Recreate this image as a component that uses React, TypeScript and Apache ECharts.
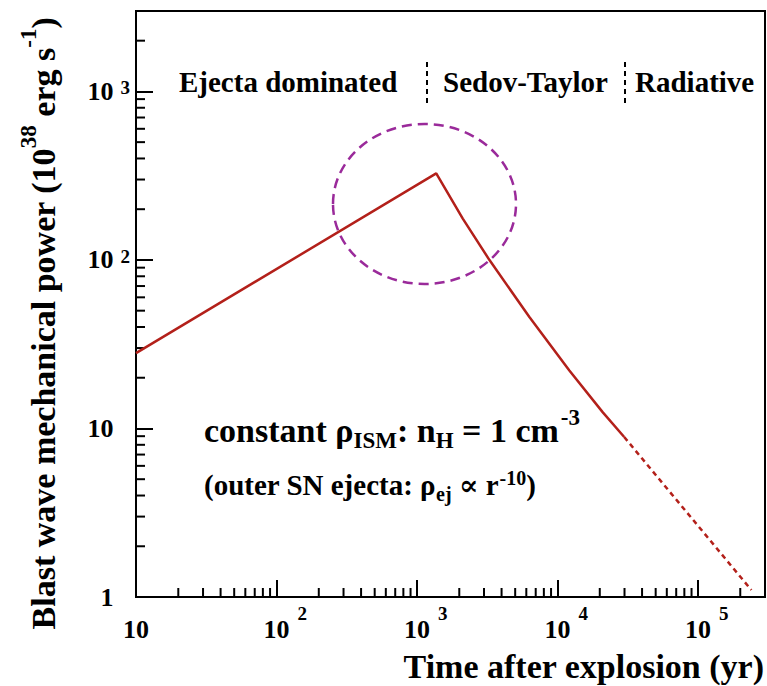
import React, { useEffect, useRef } from "react";
import * as echarts from "echarts";

// ---- data ----
const SOLID_TIME = [10, 1371, 2118, 3281, 6310, 12150, 20960, 29850];
const SOLID_POWER = [28, 326, 176, 99.8, 45.9, 22.1, 12.5, 8.9];
const DASHED_TIME = [29850, 240000];
const DASHED_POWER = [8.9, 1.1];

const X_MIN = 10;
const X_MAX = 3e5;
const Y_MIN = 1;
const Y_MAX = 3000;
const X_DECADES = [10, 100, 1000, 10000, 100000];
const Y_DECADES = [1, 10, 100, 1000];
const MINOR_MULT = [2, 3, 4, 5, 6, 7, 8, 9];
const PHASE_LABELS = ["Ejecta dominated", "Sedov-Taylor", "Radiative"];

const SERIF = "'Liberation Serif', 'Times New Roman', 'DejaVu Serif', serif";
const RED = "#b3201a";

function tok(size: number, lh: number, pad: number[]) {
  return {
    fontFamily: SERIF,
    fontWeight: "bold",
    fontSize: size,
    lineHeight: lh,
    verticalAlign: "top",
    padding: pad,
    color: "#000",
    fill: "#000",
  };
}

function expOf(v: number) {
  const l = Math.log10(v);
  const e = Math.round(l);
  return Math.abs(l - e) < 1e-6 ? e : null;
}

export default function App() {
  const ref = useRef<HTMLDivElement>(null);
  useEffect(() => {
    if (!ref.current) return;
    const chart = echarts.init(ref.current, null, { renderer: "svg" });

    const minorData: number[][] = [];
    X_DECADES.forEach((d) =>
      MINOR_MULT.forEach((m) => {
        const v = d * m;
        if (v < X_MAX) minorData.push([v, Y_MIN, 0]);
      })
    );
    Y_DECADES.forEach((d) =>
      MINOR_MULT.forEach((m) => {
        const v = d * m;
        if (v < Y_MAX) minorData.push([X_MIN, v, 1]);
      })
    );

    const option: any = {
      animation: false,
      textStyle: { fontFamily: SERIF, fontWeight: "bold" },
      grid: {
        left: 136,
        right: 2,
        top: 11,
        bottom: 89,
        show: true,
        borderColor: "#000",
        borderWidth: 2,
        backgroundColor: "transparent",
      },
      xAxis: {
        type: "log",
        logBase: 10,
        min: X_MIN,
        max: X_MAX,
        splitLine: { show: false },
        axisLine: { show: true, lineStyle: { color: "#000", width: 2 } },
        axisTick: { show: true, inside: true, length: 17, lineStyle: { color: "#000", width: 2 } },
        minorTick: { show: false },
        axisLabel: {
          margin: 7,
          showMaxLabel: false,
          formatter: (v: number) => {
            const e = expOf(v);
            if (e === null) return "";
            if (e === 1) return "{b|10}";
            return `{p| }{b|10}{s|${e}}`;
          },
          rich: {
            b: tok(26, 26, [12, 0, 0, 0]),
            s: tok(19, 19, [0, 0, 0, 8]),
            p: { ...tok(19, 19, [0, 0, 0, 0]), width: 17.5 },
          },
        },
      },
      yAxis: {
        type: "log",
        logBase: 10,
        min: Y_MIN,
        max: Y_MAX,
        splitLine: { show: false },
        axisLine: { show: true, lineStyle: { color: "#000", width: 2 } },
        axisTick: { show: true, inside: true, length: 17, lineStyle: { color: "#000", width: 2 } },
        minorTick: { show: false },
        axisLabel: {
          margin: 6,
          showMaxLabel: false,
          formatter: (v: number) => {
            const e = expOf(v);
            if (e === null) return "";
            if (e === 0) return "{b|1}{p| }";
            if (e === 1) return "{b|10}{p| }";
            return `{b|10}{s|${e}}`;
          },
          rich: {
            b: tok(26, 26, [0, 0, 0, 0]),
            s: tok(19, 19, [0, 0, 0, 7]),
            p: { ...tok(19, 19, [0, 0, 0, 0]), width: 16.5 },
          },
        },
      },
      series: [
        {
          name: "minor ticks",
          type: "custom",
          silent: true,
          data: minorData,
          renderItem: (params: any, api: any) => {
            const kind = api.value(2);
            const p = api.coord([api.value(0), api.value(1)]);
            const q = kind === 0 ? [p[0], p[1] - 9] : [p[0] + 9, p[1]];
            return {
              type: "line",
              shape: { x1: p[0], y1: p[1], x2: q[0], y2: q[1] },
              style: { stroke: "#000", lineWidth: 2 },
            };
          },
        },
        {
          name: "power",
          type: "line",
          data: SOLID_TIME.map((t, i) => [t, SOLID_POWER[i]]),
          showSymbol: false,
          symbol: "none",
          lineStyle: { color: RED, width: 2.5 },
        },
        {
          name: "power radiative",
          type: "line",
          data: DASHED_TIME.map((t, i) => [t, DASHED_POWER[i]]),
          showSymbol: false,
          symbol: "none",
          lineStyle: { color: RED, width: 2.5, type: [5, 4] },
        },
      ],
      graphic: [
        {
          type: "ellipse",
          shape: { cx: 424.5, cy: 204, rx: 91.5, ry: 80 },
          style: { fill: "none", stroke: "#9a2a9a", lineWidth: 2.5, lineDash: [10, 6] },
          silent: true,
        },
        {
          type: "line",
          shape: { x1: 427, y1: 62, x2: 427, y2: 104 },
          style: { stroke: "#000", lineWidth: 2, lineDash: [5, 4] },
        },
        {
          type: "line",
          shape: { x1: 625, y1: 62, x2: 625, y2: 104 },
          style: { stroke: "#000", lineWidth: 2, lineDash: [5, 4] },
        },
        ...PHASE_LABELS.map((t, i) => ({
          type: "text",
          x: [179, 443, 635][i],
          y: 82,
          style: {
            text: t,
            fontFamily: SERIF,
            fontWeight: "bold",
            fontSize: 29,
            fill: "#000",
            align: "left",
            verticalAlign: "middle",
            textAlign: "left",
            textVerticalAlign: "middle",
          },
        })),
        {
          type: "text",
          x: 204,
          y: 406,
          style: {
            text: "{b|constant ρ}{sub|ISM}{b|: n}{sub|H}{b| = 1 cm}{sup|-3}",
            fontFamily: SERIF,
            fontWeight: "bold",
            fontSize: 34,
            fill: "#000",
            align: "left",
            verticalAlign: "top",
            textAlign: "left",
            textVerticalAlign: "top",
            rich: {
              b: tok(34, 34, [7, 0, 0, 0]),
              sup: tok(23, 23, [0, 0, 0, 2]),
              sub: tok(23, 23, [23, 0, 0, 0]),
            },
          },
        },
        {
          type: "text",
          x: 204,
          y: 466,
          style: {
            text: "{b|(outer SN ejecta: ρ}{sub|ej}{b| ∝ r}{sup|-10}{b|)}",
            fontFamily: SERIF,
            fontWeight: "bold",
            fontSize: 29,
            fill: "#000",
            align: "left",
            verticalAlign: "top",
            textAlign: "left",
            textVerticalAlign: "top",
            rich: {
              b: tok(29, 29, [4, 0, 0, 0]),
              sup: tok(20, 20, [2, 0, 0, 1]),
              sub: tok(20, 20, [18, 0, 0, 0]),
            },
          },
        },
        {
          type: "text",
          x: 764,
          y: 666,
          style: {
            text: "Time after explosion (yr)",
            fontFamily: SERIF,
            fontWeight: "bold",
            fontSize: 34,
            fill: "#000",
            align: "right",
            verticalAlign: "middle",
            textAlign: "right",
            textVerticalAlign: "middle",
          },
        },
        {
          type: "text",
          x: 34,
          y: 323.5,
          rotation: Math.PI / 2,
          style: {
            text: "{b|Blast wave mechanical power (10}{s|38}{b| erg s}{s|-1}{b|)}",
            fontFamily: SERIF,
            fontWeight: "bold",
            fontSize: 34,
            fill: "#000",
            align: "center",
            verticalAlign: "middle",
            textAlign: "center",
            textVerticalAlign: "middle",
            rich: {
              b: tok(34, 34, [9, 0, 0, 0]),
              s: tok(23, 23, [0, 0, 0, 0]),
            },
          },
        },
      ],
    };

    chart.setOption(option);
    return () => chart.dispose();
  }, []);

  return (
    <div
      ref={ref}
      style={{ position: "fixed", left: 0, top: 0, width: 767, height: 686, background: "#fff" }}
    />
  );
}
